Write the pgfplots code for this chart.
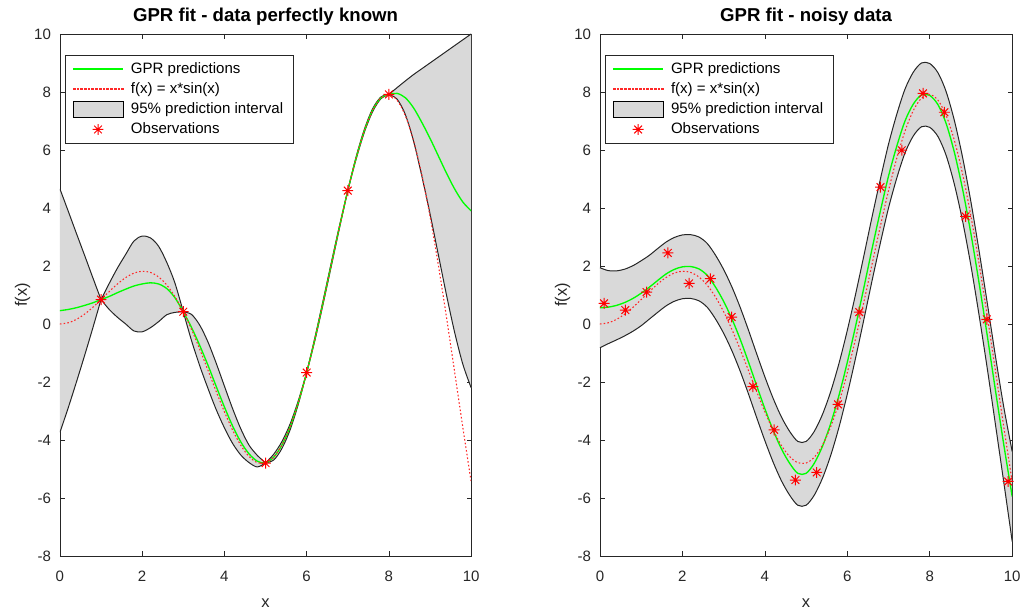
\documentclass[border=0pt]{standalone}
\usepackage{fontspec}
\setmainfont{Liberation Sans}
\usepackage{pgfplots}
\pgfplotsset{compat=1.18}
\usepackage{pgfplotstable}
\usepgfplotslibrary{fillbetween}
\definecolor{axgray}{RGB}{38,38,38}
\definecolor{bandgray}{RGB}{217,217,217}
\definecolor{mgreen}{RGB}{0,255,0}
\definecolor{mred}{RGB}{255,0,0}
\definecolor{fred}{RGB}{255,40,40}

\pgfdeclareplotmark{mstar}{%
 \pgfpathmoveto{\pgfqpoint{-\pgfplotmarksize}{0pt}}\pgfpathlineto{\pgfqpoint{\pgfplotmarksize}{0pt}}%
 \pgfpathmoveto{\pgfqpoint{0pt}{-\pgfplotmarksize}}\pgfpathlineto{\pgfqpoint{0pt}{\pgfplotmarksize}}%
 \pgfpathmoveto{\pgfqpoint{-0.707\pgfplotmarksize}{-0.707\pgfplotmarksize}}\pgfpathlineto{\pgfqpoint{0.707\pgfplotmarksize}{0.707\pgfplotmarksize}}%
 \pgfpathmoveto{\pgfqpoint{-0.707\pgfplotmarksize}{0.707\pgfplotmarksize}}\pgfpathlineto{\pgfqpoint{0.707\pgfplotmarksize}{-0.707\pgfplotmarksize}}%
 \pgfusepathqstroke}

\pgfplotstableread{
x f mL uL lL mR uR lR
0.0 0.0000 0.46 4.66 -3.74 0.56 1.94 -0.82
0.2 0.0397 0.50 3.90 -2.90 0.58 1.84 -0.68
0.4 0.1558 0.56 3.13 -2.01 0.64 1.83 -0.55
0.6 0.3388 0.64 2.37 -1.09 0.74 1.89 -0.41
0.8 0.5739 0.73 1.60 -0.14 0.88 2.01 -0.25
1.0 0.8415 0.84 0.84 0.84 1.06 2.18 -0.06
1.2 1.1184 0.95 1.40 0.50 1.27 2.37 0.17
1.4 1.3796 1.08 1.93 0.23 1.50 2.60 0.40
1.6 1.5993 1.20 2.40 0.00 1.72 2.82 0.62
1.8 1.7529 1.31 2.86 -0.24 1.88 2.98 0.78
2.0 1.8186 1.38 3.03 -0.27 1.97 3.07 0.87
2.2 1.7787 1.42 2.97 -0.13 1.98 3.08 0.88
2.4 1.6211 1.38 2.68 0.08 1.90 3.00 0.80
2.6 1.3403 1.22 2.12 0.32 1.68 2.78 0.58
2.8 0.9380 0.90 1.40 0.40 1.28 2.38 0.18
3.0 0.4234 0.42 0.42 0.42 0.78 1.88 -0.32
3.2 -0.1868 -0.12 0.33 -0.57 0.18 1.28 -0.92
3.4 -0.8688 -0.74 -0.04 -1.44 -0.52 0.58 -1.62
3.6 -1.5931 -1.42 -0.62 -2.22 -1.30 -0.20 -2.40
3.8 -2.3251 -2.15 -1.35 -2.95 -2.12 -1.02 -3.22
4.0 -3.0272 -2.86 -2.14 -3.58 -2.92 -1.82 -4.02
4.2 -3.6606 -3.52 -2.92 -4.12 -3.66 -2.56 -4.76
4.4 -4.1870 -4.07 -3.62 -4.52 -4.30 -3.20 -5.40
4.6 -4.5710 -4.48 -4.18 -4.78 -4.80 -3.70 -5.90
4.8 -4.7816 -4.73 -4.53 -4.93 -5.15 -4.05 -6.25
5.0 -4.7946 -4.79 -4.79 -4.79 -5.15 -4.05 -6.25
5.2 -4.5939 -4.59 -4.49 -4.69 -4.80 -3.70 -5.90
5.4 -4.1729 -4.17 -4.05 -4.29 -4.21 -3.11 -5.31
5.6 -3.5351 -3.54 -3.44 -3.64 -3.42 -2.32 -4.52
5.8 -2.6947 -2.69 -2.63 -2.75 -2.45 -1.35 -3.55
6.0 -1.6765 -1.68 -1.68 -1.68 -1.32 -0.22 -2.42
6.2 -0.5152 -0.52 -0.47 -0.57 -0.08 1.02 -1.18
6.4 0.7459 0.75 0.81 0.69 1.24 2.34 0.14
6.6 2.0562 2.06 2.12 2.00 2.59 3.69 1.49
6.8 3.3599 3.36 3.40 3.32 3.88 4.98 2.78
7.0 4.5989 4.60 4.60 4.60 5.10 6.20 4.00
7.2 5.7144 5.71 5.75 5.67 6.13 7.23 5.03
7.4 6.6504 6.65 6.70 6.60 7.00 8.10 5.90
7.6 7.3562 7.36 7.41 7.31 7.58 8.68 6.48
7.8 7.7886 7.79 7.82 7.76 7.90 9.00 6.80
8.0 7.9149 7.915 7.915 7.915 7.88 8.98 6.78
8.2 7.7140 7.95 8.15 7.75 7.56 8.66 6.46
8.4 7.1786 7.80 8.38 7.22 6.90 8.00 5.80
8.6 6.3158 7.45 8.60 6.30 5.90 7.00 4.80
8.8 5.1473 6.95 8.80 5.10 4.62 5.72 3.52
9.0 3.7091 6.40 9.00 3.80 3.10 4.20 2.00
9.2 2.0506 5.80 9.20 2.40 1.38 2.49 0.27
9.4 0.2329 5.20 9.40 1.00 -0.45 0.68 -1.58
9.6 -1.6736 4.65 9.60 -0.30 -2.35 -1.17 -3.53
9.8 -3.5915 4.20 9.80 -1.40 -4.20 -2.90 -5.50
10.0 -5.4402 3.90 10.00 -2.20 -5.95 -4.40 -7.50
}\tbl

\pgfplotstableread{
x y
1 0.8415
3 0.4234
5 -4.7946
6 -1.6765
7 4.5989
8 7.9149
}\obsL

\pgfplotstableread{
x y
0.100 0.71
0.616 0.48
1.132 1.10
1.647 2.45
2.163 1.40
2.679 1.56
3.195 0.24
3.711 -2.16
4.226 -3.65
4.742 -5.38
5.258 -5.12
5.774 -2.77
6.289 0.41
6.805 4.72
7.321 5.99
7.837 7.95
8.353 7.30
8.868 3.71
9.384 0.16
9.900 -5.43
}\obsR

\pgfplotsset{
 lineleg/.style={legend image code/.code={\draw[mark repeat=2,mark phase=2,##1] plot coordinates {(0pt,0pt) (18.75pt,0pt) (37.5pt,0pt)};}},
 fleg/.style={legend image code/.code={\foreach \k in {0,1,...,13} {\fill[fred] (\k*2.8pt,-0.45pt) rectangle ++(1.3pt,0.9pt);}}},
 arealeg/.style={legend image code/.code={\draw[##1] (0pt,-5.9pt) rectangle (37.5pt,5.9pt);}},
 edge/.style={draw=black!85, line width=0.75pt, smooth, tension=0.5, forget plot},
 fline/.style={color=fred, draw=fred, line width=0.8pt, dash pattern=on 1.2pt off 1.6pt},
 gline/.style={color=mgreen, draw=mgreen, line width=1pt},
 obs/.style={only marks, mark=mstar, mark size=4.1pt, color=mred, draw=mred, line width=0.75pt},
 gpr/.style={
  scale only axis, width=309pt, height=392.25pt,
  xmin=0, xmax=10, ymin=-8, ymax=10,
  xtick={0,2,4,6,8,10}, xticklabels={0,2,4,6,8,10},
  ytick={-8,-6,-4,-2,0,2,4,6,8,10}, yticklabels={-8,-6,-4,-2,0,2,4,6,8,10},
  tick align=inside, major tick length=3.5pt,
  axis line style={draw=axgray, line width=0.5pt},
  every tick/.style={draw=axgray, line width=0.5pt},
  tick label style={font=\fontsize{11.3}{13}\selectfont, text=axgray},
  x tick label style={anchor=base, yshift=-19.5pt},
  y tick label style={anchor=east, inner sep=0pt, xshift=-6.5pt},
  every axis x label/.style={at={(axis description cs:0.5,-0.0982)}, anchor=base, font=\fontsize{12.4}{14}\selectfont, text=axgray},
  every axis y label/.style={at={(axis description cs:-0.080,0.5)}, rotate=90, anchor=base, font=\fontsize{12.4}{14}\selectfont, text=axgray},
  every axis title/.style={at={(axis description cs:0.5,1.023)}, anchor=base, font=\bfseries\fontsize{14}{16}\selectfont, text=black},
  xlabel={x}, ylabel={f(x)},
  legend cell align=left,
  legend style={at={(axis description cs:0.012,0.96)}, anchor=north west, draw=axgray, fill=white,
    inner xsep=5.5pt, inner ysep=3.5pt, font=\fontsize{11.3}{13}\selectfont, row sep=1.5pt,
    nodes={inner sep=2pt, text depth=0.15em},
    /tikz/every odd column/.append style={column sep=3.5pt}},
 }
}

\begin{document}
\begin{tikzpicture}

\begin{axis}[gpr, at={(45pt,40.5pt)}, anchor=south west, title={GPR fit - data perfectly known}]
\addplot[draw=none, name path=uL, forget plot] table[x=x,y=uL]{\tbl};
\addplot[draw=none, name path=lL, forget plot] table[x=x,y=lL]{\tbl};
\addplot[fill=bandgray, draw=none, forget plot] fill between[of=uL and lL];
\addplot[edge, restrict x to domain=-0.01:1.01] table[x=x,y=uL]{\tbl};
\addplot[edge, restrict x to domain=0.99:3.01] table[x=x,y=uL]{\tbl};
\addplot[edge, restrict x to domain=2.99:5.01] table[x=x,y=uL]{\tbl};
\addplot[edge, restrict x to domain=4.99:6.01] table[x=x,y=uL]{\tbl};
\addplot[edge, restrict x to domain=5.99:7.01] table[x=x,y=uL]{\tbl};
\addplot[edge, restrict x to domain=6.99:8.01] table[x=x,y=uL]{\tbl};
\addplot[edge, restrict x to domain=7.99:10.01] table[x=x,y=uL]{\tbl};
\addplot[edge, restrict x to domain=-0.01:1.01] table[x=x,y=lL]{\tbl};
\addplot[edge, restrict x to domain=0.99:3.01] table[x=x,y=lL]{\tbl};
\addplot[edge, restrict x to domain=2.99:5.01] table[x=x,y=lL]{\tbl};
\addplot[edge, restrict x to domain=4.99:6.01] table[x=x,y=lL]{\tbl};
\addplot[edge, restrict x to domain=5.99:7.01] table[x=x,y=lL]{\tbl};
\addplot[edge, restrict x to domain=6.99:8.01] table[x=x,y=lL]{\tbl};
\addplot[edge, restrict x to domain=7.99:10.01] table[x=x,y=lL]{\tbl};
\addplot[gline, smooth, tension=0.5, forget plot] table[x=x,y=mL]{\tbl};
\addplot[fline, smooth, tension=0.5, forget plot] table[x=x,y=f]{\tbl};
\addplot[obs, forget plot] table[x=x,y=y]{\obsL};
\addlegendimage{lineleg, gline}
\addlegendimage{fleg}
\addlegendimage{arealeg, fill=bandgray, draw=black, line width=0.6pt}
\addlegendimage{lineleg, obs}
\legend{GPR predictions, f(x) = x*sin(x), 95\% prediction interval, Observations}
\end{axis}

\begin{axis}[gpr, width=309.75pt, at={(450.75pt,40.5pt)}, anchor=south west, title={GPR fit - noisy data}]
\addplot[draw=none, smooth, tension=0.5, name path=uR, forget plot] table[x=x,y=uR]{\tbl};
\addplot[draw=none, smooth, tension=0.5, name path=lR, forget plot] table[x=x,y=lR]{\tbl};
\addplot[fill=bandgray, draw=none, forget plot] fill between[of=uR and lR];
\addplot[edge] table[x=x,y=uR]{\tbl};
\addplot[edge] table[x=x,y=lR]{\tbl};
\addplot[gline, smooth, tension=0.5, forget plot] table[x=x,y=mR]{\tbl};
\addplot[fline, smooth, tension=0.5, forget plot] table[x=x,y=f]{\tbl};
\addplot[obs, forget plot] table[x=x,y=y]{\obsR};
\addlegendimage{lineleg, gline}
\addlegendimage{fleg}
\addlegendimage{arealeg, fill=bandgray, draw=black, line width=0.6pt}
\addlegendimage{lineleg, obs}
\legend{GPR predictions, f(x) = x*sin(x), 95\% prediction interval, Observations}
\end{axis}
\path (0,0) rectangle (768.75pt,458.25pt);
\end{tikzpicture}
\end{document}
